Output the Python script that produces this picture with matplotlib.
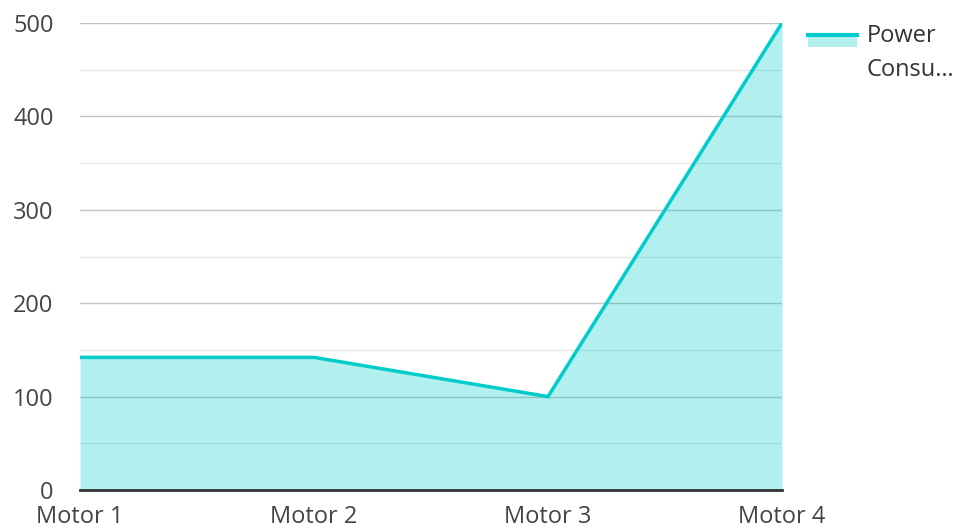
import matplotlib
matplotlib.use("Agg")
import matplotlib.pyplot as plt
from matplotlib.patches import Rectangle
from matplotlib.lines import Line2D

plt.rcParams['font.family'] = ['Open Sans', 'DejaVu Sans']

motors = ["Motor 1", "Motor 2", "Motor 3", "Motor 4"]
power = [142, 142, 100, 500]
series_name = "Power\nConsu\u2026"

line_color = "#00cccc"

W, H = 961, 531
fig = plt.figure(figsize=(W / 100, H / 100), dpi=100)
ax = fig.add_axes([80 / W, 1 - 490 / H, 702 / W, 467 / H])

x = list(range(len(motors)))
ax.fill_between(x, power, 0, color=line_color, alpha=0.3, lw=0, zorder=3)
ax.plot(x, power, color=line_color, lw=2.5, zorder=4, solid_joinstyle='miter')

ax.set_xlim(0, len(motors) - 1)
ax.set_ylim(0, 500)
ax.set_xticks(x)
ax.set_xticklabels(motors)
ax.set_yticks(range(0, 501, 100))
ax.set_yticks(range(50, 500, 100), minor=True)

ax.grid(axis='y', which='major', color='#c4c4c4', lw=1, zorder=1)
ax.grid(axis='y', which='minor', color='#e6e6e6', lw=1, zorder=1)
ax.set_axisbelow(True)

for s in ['top', 'right', 'left']:
    ax.spines[s].set_visible(False)
ax.spines['bottom'].set_color('#333333')
ax.spines['bottom'].set_linewidth(2)
ax.spines['bottom'].set_zorder(5)

ax.tick_params(axis='both', which='both', length=0, labelsize=17, colors='#444444')
ax.tick_params(axis='x', pad=10.5)
ax.tick_params(axis='y', pad=19)

# legend drawn by hand: filled swatch with the line along its top edge
fig.patches.append(Rectangle((808 / W, 1 - 47 / H), 49 / W, 12 / H,
                             transform=fig.transFigure, facecolor=line_color,
                             alpha=0.3, edgecolor='none'))
fig.lines.append(Line2D([808 / W, 857 / W], [1 - 35 / H, 1 - 35 / H],
                        transform=fig.transFigure, color=line_color, lw=3))
fig.text(867 / W, 1 - 53 / H, series_name, fontsize=17, color='#333333',
         ha='left', va='center', linespacing=1.55)

fig.savefig("out.png", dpi=100)
